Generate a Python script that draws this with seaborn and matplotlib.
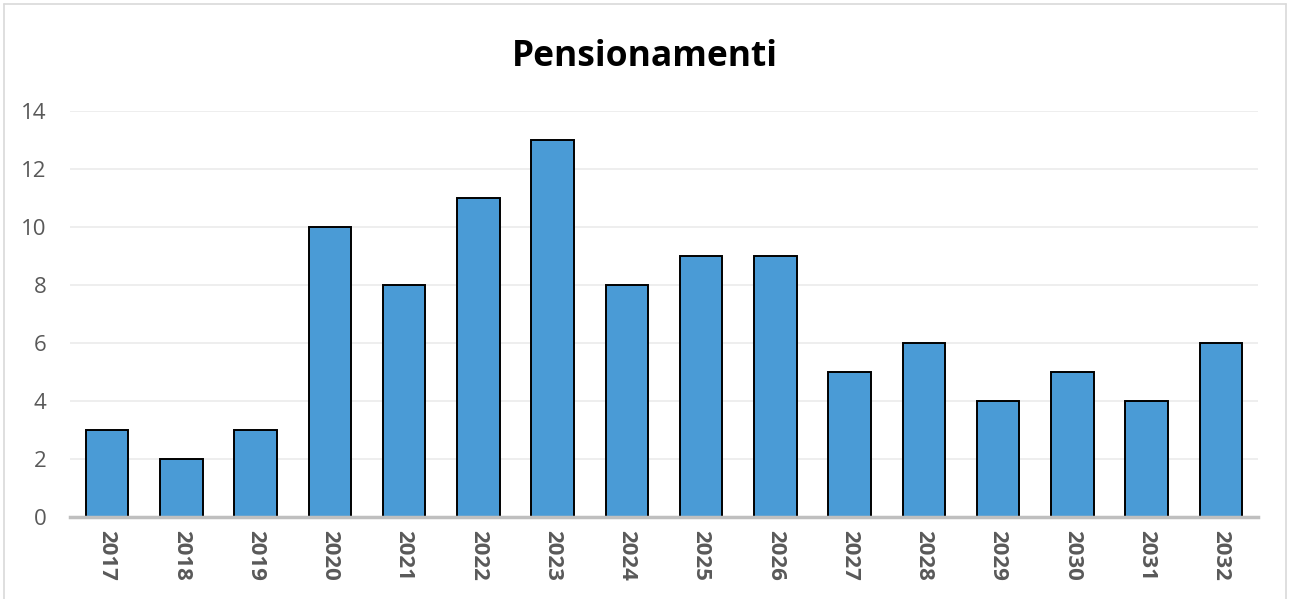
import matplotlib
matplotlib.use("Agg")
import matplotlib.pyplot as plt
import seaborn as sns
import pandas as pd
from matplotlib.lines import Line2D

years = ["2017", "2018", "2019", "2020", "2021", "2022", "2023", "2024",
         "2025", "2026", "2027", "2028", "2029", "2030", "2031", "2032"]
pensionamenti = [3, 2, 3, 10, 8, 11, 13, 8, 9, 9, 5, 6, 4, 5, 4, 6]
y_ticks = [0, 2, 4, 6, 8, 10, 12, 14]
title = "Pensionamenti"

sns.set_theme(style="white")
plt.rcParams["font.family"] = ["Open Sans", "DejaVu Sans"]

df = pd.DataFrame({"anno": years, "valore": pensionamenti})

fig = plt.figure(figsize=(12.9, 5.99), dpi=100)
ax = fig.add_axes([70 / 1290, (599 - 517) / 599, (1258 - 70) / 1290, (517 - 111) / 599])

sns.barplot(data=df, x="anno", y="valore", color="#4A9BD6", saturation=1,
            width=0.57, edgecolor="black", linewidth=1.4, ax=ax, zorder=3)

ax.set_ylim(0, 14)
ax.set_yticks(y_ticks)
ax.set_xlim(-0.5, len(years) - 0.5)
ax.grid(axis="y", color="#EBEBEB", linewidth=1.2, zorder=0)
ax.set_axisbelow(True)
for side in ["top", "right", "left"]:
    ax.spines[side].set_visible(False)
ax.spines["bottom"].set_color("#BFBFBF")
ax.spines["bottom"].set_linewidth(2.5)
ax.spines["bottom"].set_zorder(4)

ax.set_xlabel("")
ax.set_ylabel("")
ax.tick_params(axis="y", length=0, pad=17, labelsize=16, labelcolor="#595959")
ax.tick_params(axis="x", length=0, pad=9, labelsize=16, labelcolor="#595959")
for lbl in ax.get_xticklabels():
    lbl.set_rotation(-90)
    lbl.set_fontweight("bold")
    lbl.set_va("top")

fig.text(0.5, 1 - 57 / 599, title, ha="center", va="center",
         fontsize=25.5, fontweight="bold", color="black")

# light frame around the chart area
frame_color = "#D9D9D9"
fig.add_artist(Line2D([4 / 1290, 4 / 1290], [0, 1 - 4 / 599], color=frame_color, lw=1.2))
fig.add_artist(Line2D([1286 / 1290, 1286 / 1290], [0, 1 - 4 / 599], color=frame_color, lw=1.2))
fig.add_artist(Line2D([4 / 1290, 1286 / 1290], [1 - 4 / 599, 1 - 4 / 599], color=frame_color, lw=1.2))

fig.savefig("out.png", dpi=100, facecolor="white")
